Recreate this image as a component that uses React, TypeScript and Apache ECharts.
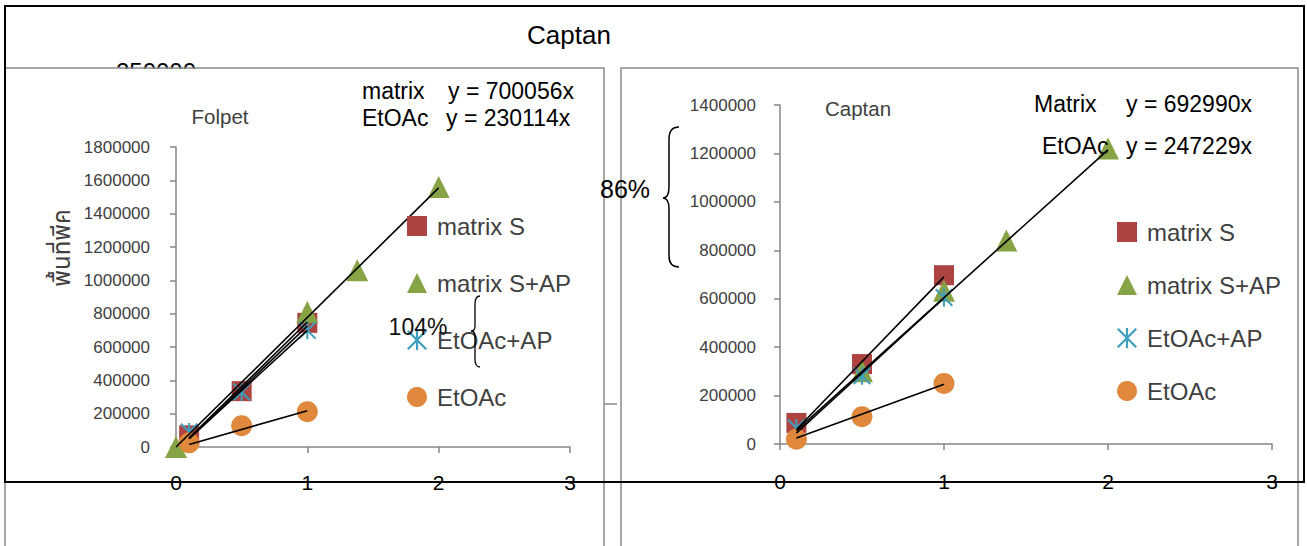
import React, { useEffect, useRef } from "react";
import * as echarts from "echarts";

const FONT = "'Liberation Sans', Arial, sans-serif";
const THAI_FONT = "'Noto Sans Thai', 'Noto Sans', 'DejaVu Sans', sans-serif";

const seriesNames = ["matrix S", "matrix S+AP", "EtOAc+AP", "EtOAc"];
const mainTitle = "Captan";
const folpetTitle = "Folpet";
const captanTitle = "Captan";
const yAxisThai = "พื้นที่พีค";

// Folpet panel
const folpetYMax = 1800000;
const folpetMatrixS = [[0.1, 70000], [0.5, 335000], [1, 745000]];
const folpetMatrixSAP = [[0, 0], [1, 810000], [1.38, 1060000], [2, 1560000]];
const folpetEtOAcAP = [[0.1, 90000], [0.5, 330000], [1, 700000]];
const folpetEtOAc = [[0.1, 25000], [0.5, 128000], [1, 212000]];
const folpetTrends = [
  [[0, 0], [2, 1555000]],
  [[0.1, 55000], [1, 750000]],
  [[0.1, 50000], [1, 725000]],
  [[0.1, 50000], [1, 700000]],
  [[0.1, 15000], [1, 218000]],
];
const folpetEq = [["matrix", "y = 700056x"], ["EtOAc", "y = 230114x"]];
const folpetPct = "104%";

// Captan panel
const captanYMax = 1400000;
const captanMatrixS = [[0.1, 87000], [0.5, 330000], [1, 697000]];
const captanMatrixSAP = [[0.5, 300000], [1, 633000], [1.38, 840000], [2, 1220000]];
const captanEtOAcAP = [[0.1, 66000], [0.5, 282000], [1, 605000]];
const captanEtOAc = [[0.1, 20000], [0.5, 113000], [1, 250000]];
const captanTrends = [
  [[0.1, 55000], [2, 1215000]],
  [[0.1, 60000], [1, 690000]],
  [[0.1, 45000], [1, 603000]],
  [[0.1, 25000], [1, 247229]],
];
const captanEq = [["Matrix", "y = 692990x"], ["EtOAc", "y = 247229x"]];
const captanPct = "86%";
const hiddenLabel = "250000";

const RED = "#AE4441";
const GREEN = "#86A446";
const CYAN = "#3E9FBD";
const ORANGE = "#E0883C";
const AXIS_GRAY = "#868686";

const ASTERISK =
  "path://M4.45,0 H5.55 V10 H4.45 Z M0,0.8 L0.8,0 L10,9.2 L9.2,10 Z M9.2,0 L10,0.8 L0.8,10 L0,9.2 Z";

try {
  echarts.graphic.registerShape(
    "braceCaptan",
    echarts.graphic.extendPath(
      "M679,127 C672,127 669,131 669,139 L669,187 C669,194 667,198 663,198 C667,198 669,202 669,209 L669,256 C669,263 672,267 679,267",
      {}
    )
  );
  echarts.graphic.registerShape(
    "braceFolpet",
    echarts.graphic.extendPath(
      "M480,296 C476,296 475,299 475,304 L475,326 C475,329 474,331 471,331 C474,331 475,333 475,336 L475,359 C475,364 476,367 480,367",
      {}
    )
  );
} catch (e) {
  // already registered
}

function xAxisCfg(gridIndex: number, margin: number) {
  return {
    type: "value",
    gridIndex,
    min: 0,
    max: 3,
    interval: 1,
    axisLine: { show: true, onZero: false, lineStyle: { color: AXIS_GRAY, width: 1.5 } },
    axisTick: { show: true, length: 6, lineStyle: { color: AXIS_GRAY, width: 1.5 } },
    axisLabel: { margin, fontSize: 21, color: "#000", fontFamily: FONT },
    splitLine: { show: false },
  };
}

function yAxisCfg(gridIndex: number, max: number, margin: number) {
  return {
    type: "value",
    gridIndex,
    min: 0,
    max,
    interval: 200000,
    axisLine: { show: true, lineStyle: { color: AXIS_GRAY, width: 1.5 } },
    axisTick: { show: true, length: 6, lineStyle: { color: AXIS_GRAY, width: 1.5 } },
    axisLabel: {
      margin,
      fontSize: 17,
      color: "#404040",
      fontFamily: FONT,
      formatter: (v: number) => String(v),
    },
    splitLine: { show: false },
  };
}

function scatters(idx: number, sets: number[][][]) {
  const symbols = ["rect", "triangle", ASTERISK, "circle"];
  const sizes = [20, 22, 18, 21];
  const colors = [RED, GREEN, CYAN, ORANGE];
  return sets.map((data, i) => ({
    type: "scatter",
    name: seriesNames[i],
    xAxisIndex: idx,
    yAxisIndex: idx,
    data,
    symbol: symbols[i],
    symbolSize: sizes[i],
    itemStyle: { color: colors[i], opacity: 1 },
    z: 2,
  }));
}

function trends(idx: number, sets: number[][][]) {
  return sets.map((data) => ({
    type: "line",
    xAxisIndex: idx,
    yAxisIndex: idx,
    data,
    symbol: "none",
    showSymbol: false,
    silent: true,
    lineStyle: { color: "#000", width: 1.6 },
    itemStyle: { color: "#000" },
    z: 3,
  }));
}

function txt(text: string, x: number, y: number, size: number, color: string, align = "left", extra: any = {}) {
  return {
    type: "text",
    x,
    y,
    z: 20,
    ...extra,
    style: {
      text,
      fill: color,
      fontSize: size,
      fontFamily: extra.fontFamily || FONT,
      textAlign: align,
      align,
      textVerticalAlign: "middle",
      verticalAlign: "middle",
    },
  };
}

export default function App() {
  const ref = useRef<HTMLDivElement>(null);

  useEffect(() => {
    if (!ref.current) return;
    const chart = echarts.init(ref.current, null, { renderer: "svg" });
    const legendBase = {
      data: seriesNames,
      orient: "vertical",
      itemWidth: 20,
      itemHeight: 20,
      padding: 0,
      selectedMode: false,
      textStyle: { fontSize: 24, color: "#404040", fontFamily: FONT, lineHeight: 22, padding: [0, 0, 0, 5] },
    };
    const option: any = {
      animation: false,
      backgroundColor: "#fff",
      grid: [
        { left: 176, top: 147, width: 394, height: 300 },
        { left: 780, top: 105, width: 492, height: 339 },
      ],
      xAxis: [xAxisCfg(0, 25), xAxisCfg(1, 27)],
      yAxis: [yAxisCfg(0, folpetYMax, 26), yAxisCfg(1, captanYMax, 24)],
      legend: [
        { ...legendBase, left: 407, top: 214, itemGap: 33 },
        { ...legendBase, left: 1117, top: 220, itemGap: 29 },
      ],
      series: [
        ...scatters(0, [folpetMatrixS, folpetMatrixSAP, folpetEtOAcAP, folpetEtOAc]),
        ...scatters(1, [captanMatrixS, captanMatrixSAP, captanEtOAcAP, captanEtOAc]),
        ...trends(0, folpetTrends),
        ...trends(1, captanTrends),
      ],
      graphic: [
        // hidden label partially covered
        txt(hiddenLabel, 156, 71, 24, "#000", "center", { z: 1 }),
        { type: "rect", z: 2, shape: { x: 100, y: 69, width: 120, height: 20 }, style: { fill: "#fff" } },
        // panel frames
        { type: "rect", z: 3, shape: { x: 5, y: 68, width: 599, height: 500 }, style: { fill: "none", stroke: "#8a8a8a", lineWidth: 1.5 } },
        { type: "rect", z: 3, shape: { x: 621, y: 68, width: 677, height: 500 }, style: { fill: "none", stroke: "#8a8a8a", lineWidth: 1.5 } },
        { type: "line", z: 3, shape: { x1: 604, y1: 404, x2: 617, y2: 404 }, style: { stroke: "#8a8a8a", lineWidth: 1.5 } },
        // outer black frame
        { type: "rect", z: 30, shape: { x: 5, y: 6, width: 1299, height: 476 }, style: { fill: "none", stroke: "#000", lineWidth: 2 } },
        // titles
        txt(mainTitle, 569, 35, 26, "#000", "center"),
        txt(folpetTitle, 220, 116, 20.5, "#404040", "center"),
        txt(captanTitle, 858, 108, 20.5, "#404040", "center"),
        // Thai axis label
        txt(yAxisThai, 63, 248, 24, "#404040", "center", { rotation: Math.PI / 2, fontFamily: THAI_FONT }),
        // equations
        txt(folpetEq[0][0], 362, 91, 23, "#000"),
        txt(folpetEq[0][1], 448, 91, 23, "#000"),
        txt(folpetEq[1][0], 362, 118, 23, "#000"),
        txt(folpetEq[1][1], 446, 118, 23, "#000"),
        txt(captanEq[0][0], 1034, 104, 23, "#000"),
        txt(captanEq[0][1], 1126, 104, 23, "#000"),
        txt(captanEq[1][0], 1042, 146, 23, "#000"),
        txt(captanEq[1][1], 1126, 146, 23, "#000"),
        // percentages and braces
        txt(captanPct, 625, 189, 25, "#000", "center"),
        txt(folpetPct, 418, 327, 23, "#111", "center"),
        { type: "braceCaptan", z: 20, x: 0, y: 0, style: { fill: "none", stroke: "#000", lineWidth: 1.5 } },
        { type: "braceFolpet", z: 20, x: 0, y: 0, style: { fill: "none", stroke: "#000", lineWidth: 1.3 } },
      ],
    };
    chart.setOption(option);
    return () => chart.dispose();
  }, []);

  return (
    <div
      ref={ref}
      style={{ position: "absolute", left: 0, top: 0, width: 1307, height: 546, background: "#fff" }}
    />
  );
}
